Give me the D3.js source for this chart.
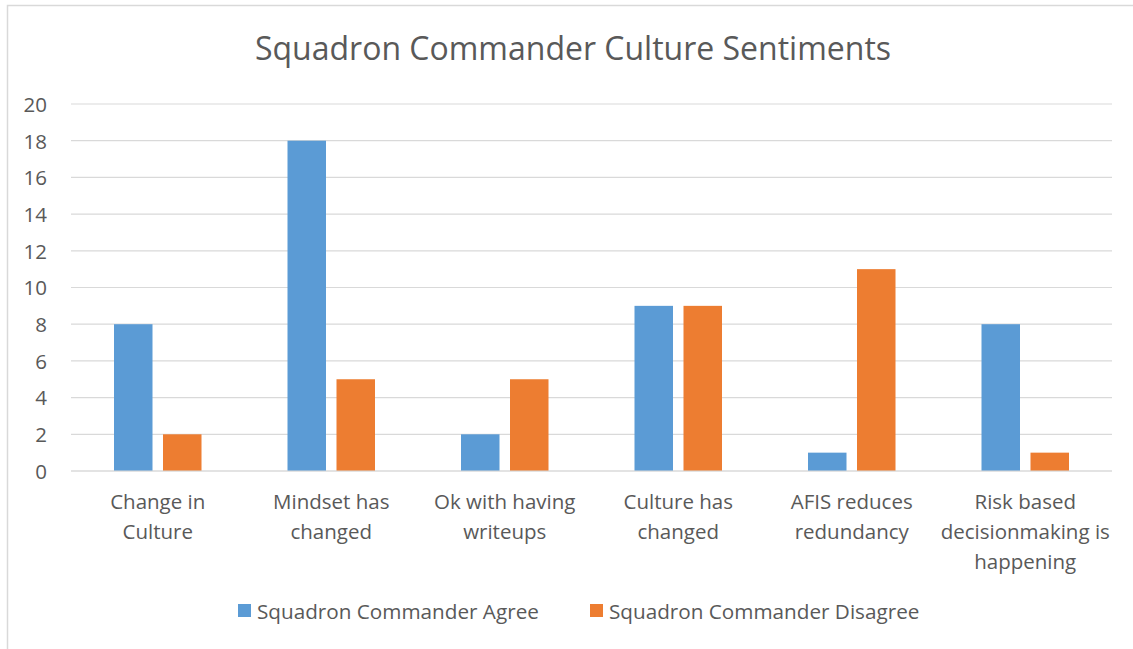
<!DOCTYPE html>
<html><head><meta charset="utf-8">
<script src="https://cdn.jsdelivr.net/npm/d3@7"></script>
<style>html,body{margin:0;padding:0;background:#fff;}svg{display:block;}</style>
</head><body>
<svg id="c" width="1133" height="649"></svg>
<script>
const categories = [
  ["Change in", "Culture"],
  ["Mindset has", "changed"],
  ["Ok with having", "writeups"],
  ["Culture has", "changed"],
  ["AFIS reduces", "redundancy"],
  ["Risk based", "decisionmaking is", "happening"]
];
const seriesNames = ["Squadron Commander Agree", "Squadron Commander Disagree"];
const agree = [8, 18, 2, 9, 1, 8];
const disagree = [2, 5, 5, 9, 11, 1];
const yTicks = [0, 2, 4, 6, 8, 10, 12, 14, 16, 18, 20];
const title = "Squadron Commander Culture Sentiments";

const colors = ["#5B9BD5", "#ED7D31"];
const font = "'Open Sans', Lato, sans-serif";
const textColor = "#595959";

const svg = d3.select("#c");
const W = 1133, H = 649;
const m = {left: 71, right: 1112, top: 104, bottom: 471};

// outer border
svg.append("path").attr("d", `M7.5,${H} V5.5 H${W}`).attr("fill","none").attr("stroke","#d9d9d9").attr("stroke-width",1.5);

const idx = categories.map((c,i)=>i);
const x = d3.scaleBand().domain(idx).range([m.left, m.right]).paddingInner(0).paddingOuter(0);
const y = d3.scaleLinear().domain([0,20]).range([m.bottom, m.top]);

// gridlines
svg.append("g").selectAll("line").data(yTicks).join("line")
  .attr("x1", m.left).attr("x2", m.right)
  .attr("y1", d=>y(d)).attr("y2", d=>y(d))
  .attr("stroke", "#d9d9d9").attr("stroke-width", 1.2);

// y axis labels
const yAxis = d3.axisLeft(y).tickValues(yTicks).tickSize(0).tickPadding(0);
const ya = svg.append("g").attr("transform", `translate(47,0)`).call(yAxis);
ya.select(".domain").remove();
ya.selectAll("text").attr("font-family", font).attr("font-size", 20.5).attr("fill", textColor).attr("dy","0.36em");

// bars
const barW = 38.5, gap = 10.5;
const data = [];
idx.forEach(i => { data.push({i, s:0, v:agree[i]}); data.push({i, s:1, v:disagree[i]}); });
svg.append("g").selectAll("rect").data(data).join("rect")
  .attr("x", d => x(d.i) + x.bandwidth()/2 - (barW*2+gap)/2 + d.s*(barW+gap))
  .attr("width", barW)
  .attr("y", d => y(d.v))
  .attr("height", d => y(0) - y(d.v))
  .attr("fill", d => colors[d.s]);

// redraw baseline on top
svg.append("line").attr("x1", m.left).attr("x2", m.right).attr("y1", y(0)).attr("y2", y(0))
  .attr("stroke","#d9d9d9").attr("stroke-width",1.2);

// category labels
const cg = svg.append("g");
categories.forEach((lines, i) => {
  const t = cg.append("text").attr("x", x(i) + x.bandwidth()/2).attr("y", 509)
    .attr("text-anchor","middle").attr("font-family", font).attr("font-size", 20.5).attr("fill", textColor);
  lines.forEach((l, k) => t.append("tspan").attr("x", x(i) + x.bandwidth()/2).attr("dy", k===0?0:30).text(l));
});

// title
svg.append("text").attr("x", 573).attr("y", 59.5).attr("text-anchor","middle")
  .attr("font-family", font).attr("font-size", 32).attr("fill", textColor).text(title);

// legend
const legX = [238, 590];
seriesNames.forEach((n, k) => {
  svg.append("rect").attr("x", legX[k]).attr("y", 604).attr("width", 13).attr("height", 13).attr("fill", colors[k]);
  svg.append("text").attr("x", legX[k]+19).attr("y", 619).attr("font-family", font).attr("font-size", 20.7)
    .attr("fill", textColor).text(n);
});
</script>
</body></html>
